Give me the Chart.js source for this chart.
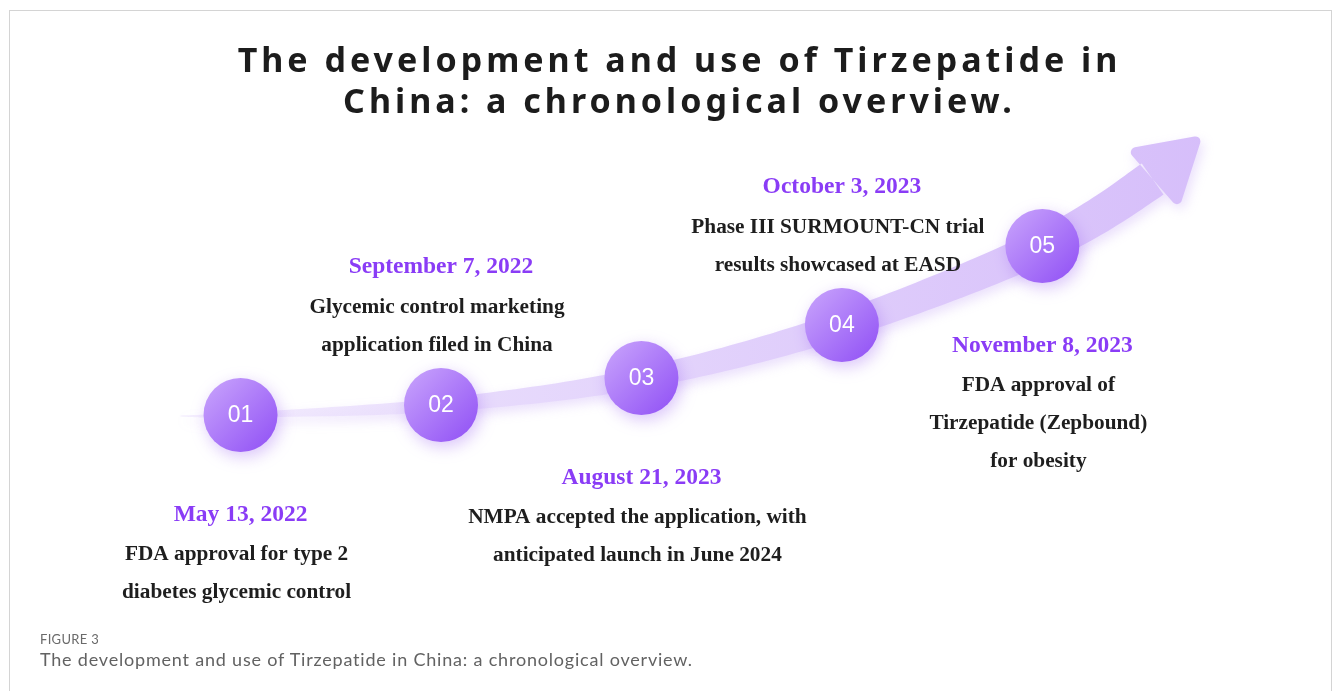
<!DOCTYPE html>
<html>
<head>
<meta charset="utf-8">
<title>Tirzepatide in China timeline</title>
<script src="https://cdn.jsdelivr.net/npm/chart.js@4.4.1/dist/chart.umd.min.js"></script>
<style>
    html, body { margin: 0; padding: 0; background: #fff; }
    #wrap { position: relative; width: 1333px; height: 691px; overflow: hidden; }
    #frame { position: absolute; left: 9px; top: 10px; width: 1323px; height: 720px; border: 1px solid #d4d4d4; box-sizing: border-box; }
    #chart { position: absolute; left: 0; top: 0; }
    #title { position: absolute; left: 13px; top: 39px; width: 1333px; text-align: center; font: 700 34px "Noto Sans", sans-serif; letter-spacing: 4px; line-height: 41px; color: #1c1c1c; }
    #fig-label { position: absolute; left: 40px; top: 631px; font: 400 13px Lato, sans-serif; color: #6a6a6a; letter-spacing: 0.3px; }
    #fig-caption { position: absolute; left: 40px; top: 648px; font: 400 18px Lato, sans-serif; letter-spacing: 0.8px; color: #626262; }
</style>
</head>
<body>
<div id="wrap">
    <div id="frame"></div>
    <canvas id="chart" width="1333" height="691"></canvas>
    <div id="title">The development and use of Tirzepatide in<br>China: a chronological overview.</div>
    <div id="fig-label">FIGURE 3</div>
    <div id="fig-caption">The development and use of Tirzepatide in China: a chronological overview.</div>
</div>
<script>
// Milestones (x = step on the timeline, y = height on the rising arrow)
const steps = ['01', '02', '03', '04', '05'];
const stepX = [1, 2, 3, 4, 5];
const stepY = [27.6, 28.6, 31.3, 36.6, 44.5];
const dates = ['May 13, 2022', 'September 7, 2022', 'August 21, 2023', 'October 3, 2023', 'November 8, 2023'];
const descriptions = [
    ['FDA approval for type 2', 'diabetes glycemic control'],
    ['Glycemic control marketing', 'application filed in China'],
    ['NMPA accepted the application, with', 'anticipated launch in June 2024'],
    ['Phase III SURMOUNT-CN trial', 'results showcased at EASD'],
    ['FDA approval of', 'Tirzepatide (Zepbound)', 'for obesity']
];
const labelSide = ['below', 'above', 'below', 'above', 'below'];

// Rising arrow: body from the tail to the base of the head, then the tip
const arrowPathX = [0.7, 1, 2, 3, 4, 5, 5.55];
const arrowPathY = [27.5, 27.6, 28.6, 31.3, 36.6, 44.5, 51.2];
const arrowTipX = 5.8;
const arrowTipY = 55.6;

const DATE_COLOR = '#8a3cf6';
const TEXT_COLOR = '#1e1e1e';

function bandGradient(ctx, area) {
    const g = ctx.createLinearGradient(area.left + 180, 0, area.left + 1210, 0);
    g.addColorStop(0, 'rgba(238, 229, 253, 0.6)');
    g.addColorStop(0.3, '#e7dafc');
    g.addColorStop(1, '#d6befa');
    return g;
}

// catmull-rom through the path points, sampled finely
function samplePath(pts) {
    const out = [];
    for (let i = 0; i < pts.length - 1; i++) {
        const p0 = pts[Math.max(i - 1, 0)], p1 = pts[i], p2 = pts[i + 1], p3 = pts[Math.min(i + 2, pts.length - 1)];
        for (let k = 0; k < 24; k++) {
            const t = k / 24, t2 = t * t, t3 = t2 * t;
            out.push({
                x: 0.5 * ((2 * p1.x) + (-p0.x + p2.x) * t + (2 * p0.x - 5 * p1.x + 4 * p2.x - p3.x) * t2 + (-p0.x + 3 * p1.x - 3 * p2.x + p3.x) * t3),
                y: 0.5 * ((2 * p1.y) + (-p0.y + p2.y) * t + (2 * p0.y - 5 * p1.y + 4 * p2.y - p3.y) * t2 + (-p0.y + 3 * p1.y - 3 * p2.y + p3.y) * t3)
            });
        }
    }
    out.push(pts[pts.length - 1]);
    return out;
}

// triangle with softly rounded corners
function roundedTriangle(ctx, a, b, c, r) {
    const mid = (p, q) => ({ x: (p.x + q.x) / 2, y: (p.y + q.y) / 2 });
    const start = mid(a, b);
    ctx.moveTo(start.x, start.y);
    ctx.arcTo(b.x, b.y, c.x, c.y, r);
    ctx.arcTo(c.x, c.y, a.x, a.y, r);
    ctx.arcTo(a.x, a.y, b.x, b.y, r);
    ctx.closePath();
}

const arrowPlugin = {
    id: 'arrowBand',
    beforeDatasetsDraw(chart) {
        const ctx = chart.ctx;
        const body = chart.getDatasetMeta(0).data.map(p => ({ x: p.x, y: p.y }));
        const tipEl = chart.getDatasetMeta(1).data[0];
        const tip = { x: tipEl.x, y: tipEl.y };
        const base = body[body.length - 1];
        const pts = samplePath(body.concat([tip])).filter(p => p.x <= base.x + 0.01);

        // cumulative length for the taper
        const len = [0];
        for (let i = 1; i < pts.length; i++) len.push(len[i - 1] + Math.hypot(pts[i].x - pts[i - 1].x, pts[i].y - pts[i - 1].y));
        const total = len[len.length - 1];
        const left = [], right = [];
        pts.forEach((p, i) => {
            const a = pts[Math.max(i - 1, 0)], b = pts[Math.min(i + 1, pts.length - 1)];
            const dx = b.x - a.x, dy = b.y - a.y, d = Math.hypot(dx, dy) || 1;
            const nx = -dy / d, ny = dx / d;
            const w = (1 + 37 * Math.pow(len[i] / total, 0.8)) / 2;
            left.push({ x: p.x + nx * w, y: p.y + ny * w });
            right.push({ x: p.x - nx * w, y: p.y - ny * w });
        });

        const dx = tip.x - base.x, dy = tip.y - base.y, d = Math.hypot(dx, dy);
        const ux = dx / d, uy = dy / d, nx = -uy, ny = ux;
        const half = 40;
        const c1 = { x: base.x + nx * half, y: base.y + ny * half };
        const c2 = { x: base.x - nx * half, y: base.y - ny * half };

        ctx.save();
        ctx.fillStyle = bandGradient(ctx, chart.chartArea);
        ctx.shadowColor = 'rgba(160, 110, 240, 0.22)';
        ctx.shadowBlur = 12;
        ctx.shadowOffsetX = 3;
        ctx.shadowOffsetY = 5;
        ctx.beginPath();
        left.forEach((p, i) => i ? ctx.lineTo(p.x, p.y) : ctx.moveTo(p.x, p.y));
        for (let i = right.length - 1; i >= 0; i--) ctx.lineTo(right[i].x, right[i].y);
        ctx.closePath();
        // arrow head as part of the same fill
        roundedTriangle(ctx, tip, c1, c2, 5);
        ctx.fill('nonzero');
        ctx.restore();
    },
    beforeDatasetDraw(chart, args) {
        if (args.index !== 2) return;
        const ctx = chart.ctx;
        ctx.save();
        ctx.shadowColor = 'rgba(150, 90, 240, 0.35)';
        ctx.shadowBlur = 16;
        ctx.shadowOffsetX = 3;
        ctx.shadowOffsetY = 5;
    },
    afterDatasetDraw(chart, args) {
        if (args.index === 2) chart.ctx.restore();
    }
};

const labelPlugin = {
    id: 'milestoneLabels',
    afterDatasetsDraw(chart) {
        const ctx = chart.ctx;
        const meta = chart.getDatasetMeta(2);
        ctx.save();
        ctx.textAlign = 'center';
        ctx.textBaseline = 'middle';
        meta.data.forEach((pt, i) => {
            ctx.fillStyle = '#ffffff';
            ctx.font = '23px "Liberation Sans", Arial, sans-serif';
            ctx.fillText(steps[i], pt.x, pt.y + 1);

            const lines = descriptions[i];
            let dateY, lineY;
            if (labelSide[i] === 'above') {
                lineY = pt.y - 60 - (lines.length - 1) * 38;
                dateY = lineY - 40;
            } else {
                dateY = pt.y + 100;
                lineY = dateY + 39;
            }
            ctx.fillStyle = DATE_COLOR;
            ctx.font = 'bold 23.5px "Liberation Serif", "Times New Roman", serif';
            ctx.fillText(dates[i], pt.x, dateY);
            ctx.fillStyle = TEXT_COLOR;
            ctx.font = 'bold 21.3px "Liberation Serif", "Times New Roman", serif';
            lines.forEach((t, k) => ctx.fillText(t, pt.x - 4, lineY + k * 38));
        });
        ctx.restore();
    }
};

function circleFill(context) {
    const chart = context.chart;
    const fallback = '#a66cf7';
    if (context.type !== 'data' || !chart.scales.x || !chart.scales.y) return fallback;
    const i = context.dataIndex;
    const cx = chart.scales.x.getPixelForValue(stepX[i]);
    const cy = chart.scales.y.getPixelForValue(stepY[i]);
    if (!isFinite(cx) || !isFinite(cy)) return fallback;
    const r = 37;
    const g = chart.ctx.createLinearGradient(cx - r, cy - r, cx + r, cy + r);
    g.addColorStop(0, '#caa6fc');
    g.addColorStop(1, '#8f4ef5');
    return g;
}

new Chart(document.getElementById('chart'), {
    type: 'scatter',
    data: {
        datasets: [
            { label: 'arrow', data: arrowPathX.map((x, i) => ({ x, y: arrowPathY[i] })), pointRadius: 0, showLine: false },
            { label: 'tip', data: [{ x: arrowTipX, y: arrowTipY }], pointRadius: 0, showLine: false },
            {
                label: 'milestones',
                data: stepX.map((x, i) => ({ x, y: stepY[i] })),
                pointRadius: 37,
                pointHoverRadius: 37,
                borderWidth: 0,
                backgroundColor: circleFill,
                clip: false
            }
        ]
    },
    options: {
        responsive: false,
        animation: false,
        events: [],
        layout: { padding: 0, autoPadding: false },
        plugins: { legend: { display: false }, tooltip: { enabled: false } },
        scales: {
            x: { type: 'linear', min: -0.2, max: 6.45, display: false },
            y: { type: 'linear', min: 0, max: 69.1, display: false }
        }
    },
    plugins: [arrowPlugin, labelPlugin]
});
</script>
</body>
</html>
